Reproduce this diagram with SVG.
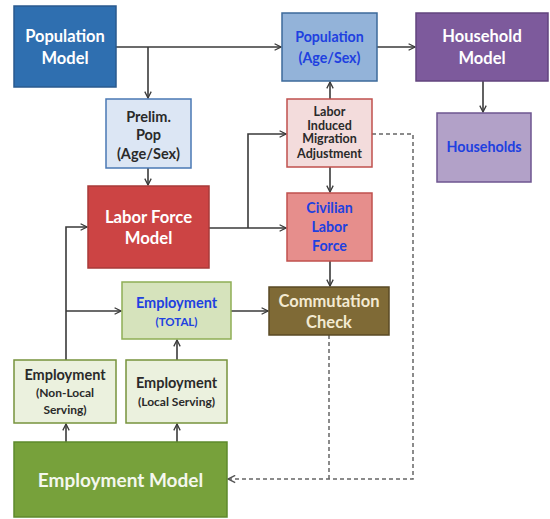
<svg xmlns="http://www.w3.org/2000/svg" width="550" height="519" viewBox="0 0 550 519">
  <defs>
    <marker id="arr" viewBox="0 0 10 10" refX="9" refY="5" markerWidth="8" markerHeight="8" markerUnits="userSpaceOnUse" orient="auto">
      <path d="M1,1 L9,5 L1,9" fill="none" stroke="#3a3a3a" stroke-width="1.6"/>
    </marker>
    <marker id="arrd" viewBox="0 0 10 10" refX="9" refY="5" markerWidth="9" markerHeight="9" markerUnits="userSpaceOnUse" orient="auto">
      <path d="M1,1 L9,5 L1,9" fill="none" stroke="#555" stroke-width="1.6"/>
    </marker>
  </defs>
  <style>
    text { font-family: Lato, "Open Sans", "Liberation Sans", sans-serif; font-weight: bold; text-anchor: middle; }
    .ln { fill: none; stroke: #3a3a3a; stroke-width: 1.6; }
    .dash { fill: none; stroke: #666; stroke-width: 1.5; stroke-dasharray: 4 3; }
    .w { fill: #ffffff; }
    .b { fill: #2040e0; }
    .d { fill: #2a2a2a; }
  </style>
  <rect width="550" height="519" fill="#ffffff"/>

  <!-- connectors -->
  <g id="connectors">
    <path class="ln" d="M116,47 H281" marker-end="url(#arr)"/>
    <path class="ln" d="M148,47 V98" marker-end="url(#arr)"/>
    <path class="ln" d="M377,47 H415" marker-end="url(#arr)"/>
    <path class="ln" d="M483,81 V112" marker-end="url(#arr)"/>
    <path class="ln" d="M148,168 V185" marker-end="url(#arr)"/>
    <path class="ln" d="M330,99 V82" marker-end="url(#arr)"/>
    <path class="ln" d="M330,167 V192" marker-end="url(#arr)"/>
    <path class="ln" d="M330,261 V286" marker-end="url(#arr)"/>
    <path class="ln" d="M209,228 H286" marker-end="url(#arr)"/>
    <path class="ln" d="M248,228 V134 H286" marker-end="url(#arr)"/>
    <path class="ln" d="M66,360 V227 H87" marker-end="url(#arr)"/>
    <path class="ln" d="M66,311 H121" marker-end="url(#arr)"/>
    <path class="ln" d="M231,311 H268" marker-end="url(#arr)"/>
    <path class="ln" d="M177,360 V340" marker-end="url(#arr)"/>
    <path class="ln" d="M66,442 V424" marker-end="url(#arr)"/>
    <path class="ln" d="M177,442 V424" marker-end="url(#arr)"/>
    <path class="dash" d="M372,134 H413 V479 H228" marker-end="url(#arrd)"/>
    <path class="dash" d="M329,335 V479"/>
  </g>

  <g id="population-model">
    <rect x="14" y="6" width="102" height="81" fill="#2f6fb0" stroke="#2a5a8e" stroke-width="1.5"/>
    <text x="65" y="42" font-size="16.5" class="w">Population</text>
    <text x="65" y="64" font-size="16.5" class="w">Model</text>
  </g>

  <g id="prelim-pop">
    <rect x="106" y="99" width="85" height="69" fill="#dce6f4" stroke="#4a78b4" stroke-width="1.5"/>
    <text x="148.5" y="122" font-size="14.5" class="d">Prelim.</text>
    <text x="148.5" y="140" font-size="14.5" class="d">Pop</text>
    <text x="148.5" y="159" font-size="14.5" class="d">(Age/Sex)</text>
  </g>

  <g id="population-age-sex">
    <rect x="282" y="13" width="95" height="68" fill="#93b3d9" stroke="#3c6a9a" stroke-width="1.5"/>
    <text x="329.5" y="42" font-size="14.2" class="b">Population</text>
    <text x="329.5" y="63" font-size="14.2" class="b">(Age/Sex)</text>
  </g>

  <g id="household-model">
    <rect x="416" y="13" width="132" height="68" fill="#7d5a9c" stroke="#62447e" stroke-width="1.5"/>
    <text x="482" y="42" font-size="16.5" class="w">Household</text>
    <text x="482" y="64" font-size="16.5" class="w">Model</text>
  </g>

  <g id="households">
    <rect x="437" y="113" width="94" height="69" fill="#b2a1c8" stroke="#6e5690" stroke-width="1.5"/>
    <text x="484" y="152" font-size="14.3" class="b">Households</text>
  </g>

  <g id="migration-adjustment">
    <rect x="287" y="99" width="85" height="68" fill="#f3dcdc" stroke="#c0504d" stroke-width="1.5"/>
    <text x="329.5" y="116" font-size="12.5" class="d">Labor</text>
    <text x="329.5" y="129.5" font-size="12.5" class="d">Induced</text>
    <text x="329.5" y="143" font-size="12.5" class="d">Migration</text>
    <text x="329.5" y="158" font-size="12.5" class="d">Adjustment</text>
  </g>

  <g id="labor-force-model">
    <rect x="88" y="186" width="121" height="82" fill="#cc4444" stroke="#a83a38" stroke-width="1.5"/>
    <text x="148.5" y="223" font-size="16.7" class="w">Labor Force</text>
    <text x="148.5" y="244" font-size="16.7" class="w">Model</text>
  </g>

  <g id="civilian-labor-force">
    <rect x="287" y="193" width="85" height="68" fill="#e68e8c" stroke="#c0504d" stroke-width="1.5"/>
    <text x="329.5" y="213" font-size="14.2" class="b">Civilian</text>
    <text x="329.5" y="232" font-size="14.2" class="b">Labor</text>
    <text x="329.5" y="251" font-size="14.2" class="b">Force</text>
  </g>

  <g id="employment-total">
    <rect x="122" y="282" width="109" height="57" fill="#d6e3bc" stroke="#8fae55" stroke-width="1.5"/>
    <text x="176.5" y="308" font-size="14.5" class="b">Employment</text>
    <text x="176.5" y="326" font-size="11.5" class="b">(TOTAL)</text>
  </g>

  <g id="commutation-check">
    <rect x="269" y="287" width="120" height="48" fill="#7f6a36" stroke="#5a4a24" stroke-width="1.5"/>
    <text x="329" y="307" font-size="16.5" fill="#f3ead2">Commutation</text>
    <text x="329" y="328" font-size="16.5" fill="#f3ead2">Check</text>
  </g>

  <g id="employment-non-local">
    <rect x="14" y="360" width="102" height="63" fill="#ebf1de" stroke="#77933c" stroke-width="1.5"/>
    <text x="65" y="380" font-size="14.5" class="d">Employment</text>
    <text x="65" y="397" font-size="12" class="d">(Non-Local</text>
    <text x="65" y="414" font-size="12" class="d">Serving)</text>
  </g>

  <g id="employment-local">
    <rect x="126" y="360" width="101" height="63" fill="#ebf1de" stroke="#77933c" stroke-width="1.5"/>
    <text x="176.5" y="388" font-size="14.5" class="d">Employment</text>
    <text x="176.5" y="406" font-size="12" class="d">(Local Serving)</text>
  </g>

  <g id="employment-model">
    <rect x="14" y="442" width="213" height="75" fill="#77a13b" stroke="#5e8a2c" stroke-width="1.5"/>
    <text x="120.5" y="487" font-size="19" fill="#f4f7ee">Employment Model</text>
  </g>
</svg>
